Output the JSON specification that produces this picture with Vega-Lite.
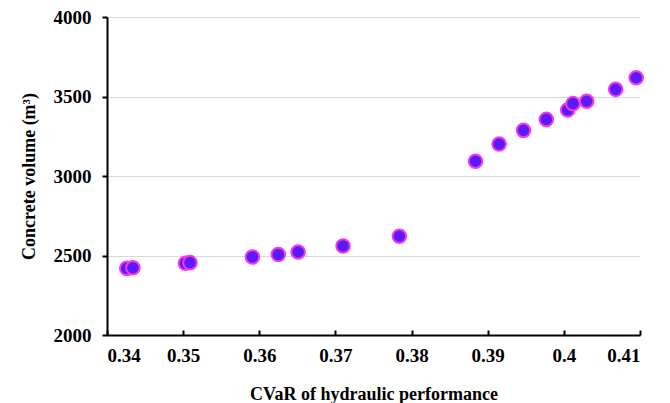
{
  "$schema": "https://vega.github.io/schema/vega-lite/v6.json",
  "width": 533,
  "height": 318,
  "autosize": "none",
  "padding": {"left": 107, "top": 17, "right": 30, "bottom": 68},
  "background": "white",
  "config": {"view": {"stroke": null}},
  "data": {"values": [
    {"cvar": 0.3426, "volume": 2419},
    {"cvar": 0.3434, "volume": 2423},
    {"cvar": 0.3503, "volume": 2451},
    {"cvar": 0.3509, "volume": 2455},
    {"cvar": 0.3591, "volume": 2491},
    {"cvar": 0.3625, "volume": 2506},
    {"cvar": 0.3651, "volume": 2522},
    {"cvar": 0.3710, "volume": 2560},
    {"cvar": 0.3784, "volume": 2621},
    {"cvar": 0.3884, "volume": 3093},
    {"cvar": 0.3915, "volume": 3201},
    {"cvar": 0.3947, "volume": 3287},
    {"cvar": 0.3977, "volume": 3356},
    {"cvar": 0.4005, "volume": 3415},
    {"cvar": 0.4012, "volume": 3455},
    {"cvar": 0.4030, "volume": 3470},
    {"cvar": 0.4068, "volume": 3545},
    {"cvar": 0.4095, "volume": 3618}
  ]},
  "mark": {"type": "point", "filled": true, "shape": "circle", "size": 185, "fill": "#5A1AFA", "stroke": "#F53BE6", "strokeWidth": 2, "opacity": 1, "fillOpacity": 1, "strokeOpacity": 1},
  "encoding": {
    "x": {
      "field": "cvar", "type": "quantitative",
      "scale": {"domain": [0.34, 0.41], "nice": false, "zero": false},
      "axis": {
        "values": [0.34, 0.35, 0.36, 0.37, 0.38, 0.39, 0.4, 0.41],
        "format": "~g",
        "grid": false,
        "domainColor": "black", "domainWidth": 2,
        "tickColor": "black", "tickWidth": 2, "tickSize": -5,
        "labelFont": "Liberation Serif", "labelFontWeight": "bold", "labelFontSize": 19, "labelColor": "black",
        "labelPadding": 16,
        "title": "CVaR of hydraulic performance",
        "titleFont": "Liberation Serif", "titleFontWeight": "bold", "titleFontSize": 18, "titleColor": "black",
        "titlePadding": 20
      }
    },
    "y": {
      "field": "volume", "type": "quantitative",
      "scale": {"domain": [2000, 4000], "nice": false, "zero": false},
      "axis": {
        "values": [2000, 2500, 3000, 3500, 4000],
        "format": "d",
        "grid": true, "gridColor": "#D9D9D9", "gridWidth": 1,
        "domainColor": "black", "domainWidth": 2,
        "tickColor": "black", "tickWidth": 2, "tickSize": 5,
        "labelFont": "Liberation Serif", "labelFontWeight": "bold", "labelFontSize": 19, "labelColor": "black",
        "labelPadding": 11,
        "title": "Concrete volume (m³)",
        "titleFont": "Liberation Serif", "titleFontWeight": "bold", "titleFontSize": 18, "titleColor": "black",
        "titlePadding": 15
      }
    }
  }
}
